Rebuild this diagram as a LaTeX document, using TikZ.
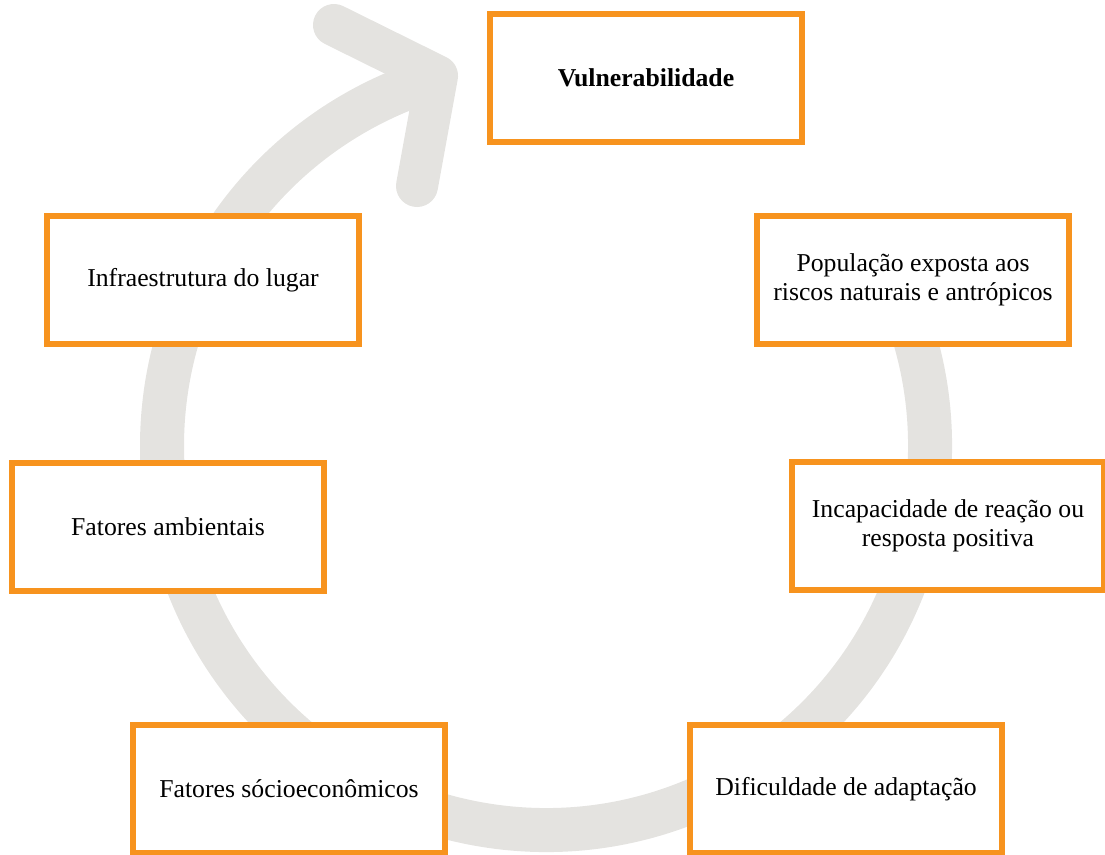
\documentclass[tikz,border=0pt]{standalone}
\usepackage{fontspec}
\setmainfont{Liberation Serif}
\usepackage{xcolor}
\usetikzlibrary{positioning}
\definecolor{boxorange}{RGB}{247,147,30}
\definecolor{ringgray}{RGB}{228,227,224}

\begin{document}
\begin{tikzpicture}[
    x=0.025cm, y=-0.025cm,
    factor/.style={rectangle, draw=boxorange, line width=0.15cm, fill=white, minimum width=7.8cm, minimum height=3.2cm, align=center, font=\fontsize{18.3}{20.4}\selectfont},
    ring/.style={draw=ringgray, line width=1.1cm}
]
\useasboundingbox (0,0) rectangle (1105,855);

\draw[ring] (546,446) ++(-30:384) arc[start angle=-30, end angle=254, radius=384];
\coordinate (headup) at (334,25);
\coordinate (tip) at (437,76);
\coordinate (headdown) at (417,186);
\draw[ring, line width=1.05cm, line cap=round, line join=round] (headup) -- (tip) -- (headdown);

\node[factor] (vul) at (646,78) {\textbf{Vulnerabilidade}};
\node[factor] (pop) at (913,280) {População exposta aos\\riscos naturais e antrópicos};
\node[factor] (infra) at (203,280) {Infraestrutura do lugar};
\node[factor] (amb) at (168,527) {Fatores ambientais};
\node[factor] (reac) at (948,526) {Incapacidade de reação ou\\resposta positiva};
\node[factor] (socio) at (289,789) {Fatores sócioeconômicos};
\node[factor] (adapt) at (846,789) {Dificuldade de adaptação};
\end{tikzpicture}
\end{document}
